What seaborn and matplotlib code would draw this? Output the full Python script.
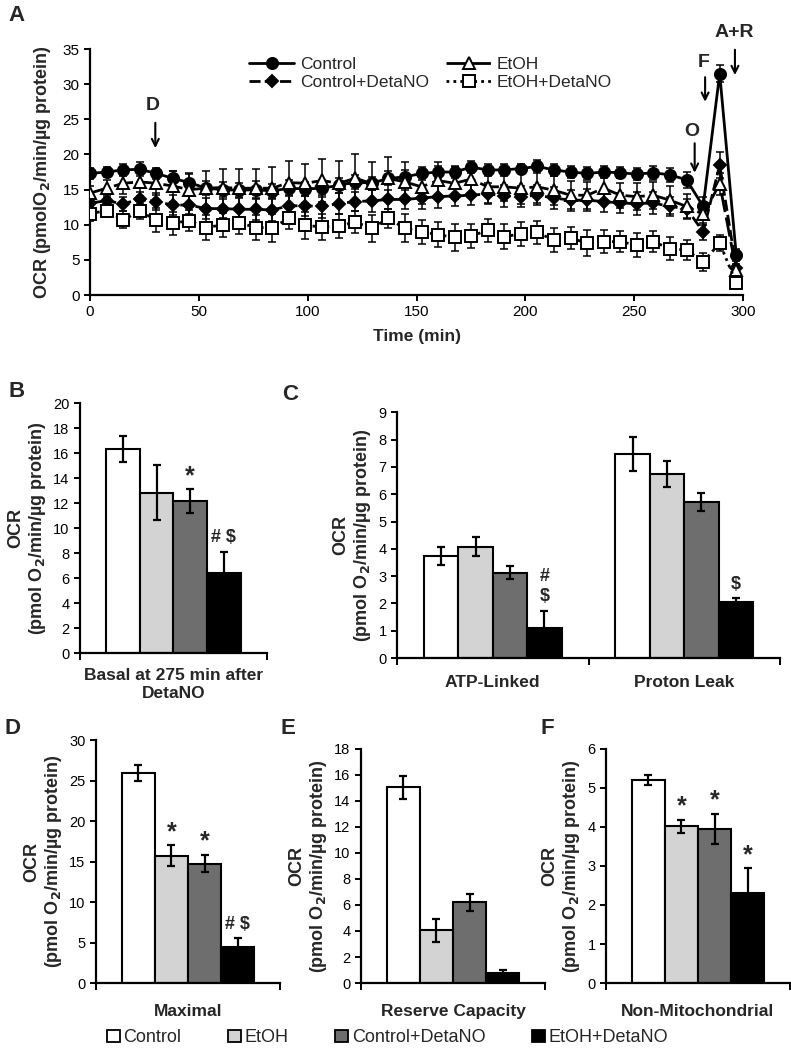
import numpy as np
import pandas as pd
import matplotlib
matplotlib.use('Agg')
import matplotlib.pyplot as plt
from matplotlib.patches import Patch
import seaborn as sns

# ---- panel A: OCR time course ----
times = [0, 7.6, 15.2, 22.8, 30.5, 38.1, 45.7, 53.3, 60.9, 68.5,
         76.1, 83.7, 91.4, 99.0, 106.6, 114.2, 121.8, 129.4, 137.0, 144.6,
         152.3, 159.9, 167.5, 175.1, 182.7, 190.3, 197.9, 205.5, 213.2, 220.8,
         228.4, 236.0, 243.6, 251.2, 258.8, 266.4, 274.1, 281.7, 289.3, 296.9]

control = [17.3, 17.5, 17.8, 17.9, 17.3, 16.6, 16.0, 15.2, 15.0, 14.9,
           15.0, 14.8, 15.2, 15.1, 15.2, 15.6, 16.1, 15.9, 16.6, 16.8,
           17.3, 17.5, 17.5, 18.2, 17.8, 17.8, 18.0, 18.3, 17.8, 17.5,
           17.3, 17.5, 17.4, 17.2, 17.4, 17.1, 16.4, 12.6, 31.5, 5.7]
etoh = [14.5, 15.2, 15.9, 16.1, 15.9, 15.5, 15.0, 15.2, 15.3, 15.2,
        15.2, 15.2, 16.0, 15.9, 16.3, 15.9, 16.6, 15.9, 16.6, 16.1,
        15.4, 16.3, 15.9, 16.5, 15.4, 15.4, 15.2, 15.4, 14.9, 14.2,
        14.2, 15.2, 14.2, 14.0, 14.2, 13.5, 12.6, 11.5, 15.8, 3.6]
control_deta = [13.1, 13.4, 13.0, 13.6, 13.3, 12.8, 12.8, 12.3, 12.3, 12.2,
                12.2, 12.1, 12.7, 12.7, 12.6, 13.0, 13.3, 13.4, 13.6, 13.6,
                13.8, 14.0, 14.1, 14.2, 14.4, 14.1, 14.0, 14.2, 13.8, 13.5,
                13.5, 13.3, 13.1, 13.0, 13.1, 12.6, 12.3, 9.0, 18.5, 3.8]
etoh_deta = [11.6, 12.0, 10.7, 11.9, 10.7, 10.2, 10.6, 9.6, 10.0, 10.3,
             9.6, 9.6, 10.9, 9.9, 9.7, 9.8, 10.4, 9.5, 10.9, 9.5,
             9.0, 8.6, 8.2, 8.4, 9.2, 8.3, 8.7, 8.9, 7.8, 8.1,
             7.4, 7.6, 7.6, 7.1, 7.6, 6.6, 6.4, 4.7, 7.4, 1.7]

control_err = [0.8, 0.7, 0.8, 1.0, 0.8, 1.1, 1.2, 1.0, 1.1, 1.0,
               1.2, 1.0, 1.1, 1.0, 1.2, 1.1, 1.0, 0.9, 1.0, 1.0,
               0.9, 0.8, 0.9, 0.8, 0.8, 0.8, 0.7, 0.9, 0.8, 0.8,
               0.9, 0.9, 0.8, 0.9, 1.0, 1.0, 1.1, 1.3, 1.2, 0.9]
etoh_err = [1.0, 1.2, 1.5, 2.0, 1.7, 2.2, 2.3, 2.5, 2.6, 2.8,
            2.8, 3.0, 3.0, 2.8, 3.0, 3.2, 3.4, 3.0, 3.0, 2.8,
            2.5, 2.6, 2.3, 2.2, 2.3, 2.0, 2.2, 2.3, 2.1, 2.0,
            1.9, 2.0, 1.8, 1.9, 1.9, 2.0, 1.8, 1.5, 1.6, 0.6]
control_deta_err = [0.8, 0.9, 1.0, 1.1, 1.2, 1.4, 1.3, 1.5, 1.4, 1.6,
                    1.5, 1.6, 1.5, 1.4, 1.6, 1.5, 1.4, 1.6, 1.4, 1.3,
                    1.5, 1.6, 1.5, 1.4, 1.5, 1.6, 1.5, 1.4, 1.6, 1.5,
                    1.6, 1.5, 1.4, 1.6, 1.5, 1.4, 1.3, 1.2, 1.8, 0.6]
etoh_deta_err = [1.0, 0.8, 1.2, 1.1, 1.7, 1.6, 1.5, 1.8, 1.7, 1.6,
                 1.8, 2.0, 1.5, 1.9, 1.8, 1.7, 1.6, 1.9, 1.4, 2.0,
                 1.7, 1.8, 1.9, 1.7, 1.6, 1.8, 1.7, 1.6, 1.7, 1.6,
                 1.8, 1.6, 1.5, 1.7, 1.5, 1.6, 1.4, 1.3, 1.2, 0.5]

# ---- panels B-F: bar summaries ----
groups = ['Control', 'EtOH', 'Control+DetaNO', 'EtOH+DetaNO']
bar_colors = ['white', '#d3d3d3', '#6e6e6e', 'black']

basal_cats = ['Basal at 275 min after\nDetaNO']
basal_vals = [[16.35], [12.85], [12.15], [6.45]]
basal_errs = [[1.05], [2.2], [0.95], [1.65]]
basal_marks = [[''], [''], ['*'], ['# $']]

atp_cats = ['ATP-Linked', 'Proton Leak']
atp_vals = [[3.73, 7.47], [4.08, 6.75], [3.13, 5.72], [1.1, 2.07]]
atp_errs = [[0.33, 0.62], [0.36, 0.48], [0.25, 0.32], [0.64, 0.12]]
atp_marks = [['', ''], ['', ''], ['', ''], ['#\n$', '$']]

max_cats = ['Maximal']
max_vals = [[25.9], [15.7], [14.75], [4.45]]
max_errs = [[1.0], [1.3], [1.1], [1.1]]
max_marks = [[''], ['*'], ['*'], ['# $']]

reserve_cats = ['Reserve Capacity']
reserve_vals = [[15.05], [4.05], [6.2], [0.75]]
reserve_errs = [[0.9], [0.9], [0.65], [0.27]]
reserve_marks = [[''], [''], [''], ['']]

nonmito_cats = ['Non-Mitochondrial']
nonmito_vals = [[5.2], [4.02], [3.95], [2.3]]
nonmito_errs = [[0.12], [0.17], [0.38], [0.64]]
nonmito_marks = [[''], ['*'], ['*'], ['*']]

sns.set_style('ticks')
plt.rcParams['font.family'] = ['Liberation Sans', 'DejaVu Sans']
plt.rcParams['axes.linewidth'] = 1.6
plt.rcParams['xtick.major.width'] = 1.4
plt.rcParams['ytick.major.width'] = 1.4
plt.rcParams['mathtext.default'] = 'regular'

fig = plt.figure(figsize=(7.91, 10.5), dpi=100)


def style_axes(ax, size=10.5):
    sns.despine(ax=ax)
    ax.tick_params(axis='both', direction='out', length=4, labelsize=size, colors='black')
    for s in ['left', 'bottom']:
        ax.spines[s].set_color('black')


# ---------- A ----------
axA = fig.add_axes([0.1138, 0.719, 0.8255, 0.2343])
series = [
    ('Control', control, control_err, 'o', 'black', '-', 8.0),
    ('Control+DetaNO', control_deta, control_deta_err, 'D', 'black', (0, (4, 1.5)), 6.5),
    ('EtOH', etoh, etoh_err, '^', 'white', (0, (7, 2)), 8.5),
    ('EtOH+DetaNO', etoh_deta, etoh_deta_err, 's', 'white', (0, (1, 1.5)), 8.5),
]
for name, vals, errs, mk, face, ls, ms in series:
    axA.errorbar(times, vals, yerr=errs, fmt='none', ecolor='black',
                 elinewidth=1.1, capsize=3, capthick=1.1, zorder=2)
    sns.lineplot(x=times, y=vals, ax=axA, color='black', linestyle=ls, lw=2.0,
                 marker=mk, markersize=ms, markerfacecolor=face,
                 markeredgecolor='black', markeredgewidth=1.4, label=name, zorder=3)

axA.set_xlim(0, 300)
axA.set_ylim(0, 35)
axA.set_xticks(range(0, 301, 50))
axA.set_yticks(range(0, 36, 5))
style_axes(axA, 11)
axA.set_xlabel('Time (min)', fontsize=12.5, fontweight='bold', labelpad=7)
axA.set_ylabel(r'OCR (pmolO$_\mathbf{2}$/min/µg protein)', fontsize=13,
               fontweight='bold', labelpad=7)
axA.legend(ncol=2, frameon=False, loc='upper left', bbox_to_anchor=(0.22, 1.03),
           fontsize=12.5, handlelength=2.6, handletextpad=0.3, columnspacing=1.0,
           labelspacing=0.15)

injections = [('D', 29, 26.9, 30, 24.5, 20.9),
              ('O', 276.6, 23.2, 277.8, 21.6, 17.4),
              ('F', 282, 33.1, 282.6, 31.0, 27.5),
              ('A+R', 296, 37.4, 296.3, 34.9, 31.3)]
for lab, tx, ty, axx, y0, y1 in injections:
    axA.text(tx, ty, lab, ha='center', va='center', fontsize=14,
             fontweight='bold', clip_on=False)
    axA.annotate('', xy=(axx, y1), xytext=(axx, y0), annotation_clip=False,
                 arrowprops=dict(arrowstyle='->,head_length=0.5,head_width=0.25',
                                 color='black', lw=1.5, shrinkA=0, shrinkB=0))


# ---------- bar panels ----------
def bar_panel(rect, cats, vals, errs, marks, ymax, ystep, pad):
    ax = fig.add_axes(rect)
    rows = []
    for g, gv in zip(groups, vals):
        for c, v in zip(cats, gv):
            rows.append({'category': c, 'group': g, 'value': v})
    df = pd.DataFrame(rows)
    sns.barplot(data=df, x='category', y='value', hue='group', hue_order=groups,
                order=cats, palette=bar_colors, edgecolor='black', linewidth=1.5,
                width=0.72, errorbar=None, legend=False, ax=ax)
    for cont, gerr, gmark in zip(ax.containers, errs, marks):
        for bar, e, m in zip(cont, gerr, gmark):
            xc = bar.get_x() + bar.get_width() / 2
            h = bar.get_height()
            ax.errorbar(xc, h, yerr=e, fmt='none', ecolor='black', elinewidth=1.6,
                        capsize=3, capthick=1.6, zorder=5)
            if m == '*':
                ax.annotate(m, (xc, h + e), xytext=(0, 1), textcoords='offset points',
                            ha='center', va='bottom', fontsize=18, fontweight='bold')
            elif m:
                ax.annotate(m, (xc, h + e), xytext=(0, 4), textcoords='offset points',
                            ha='center', va='bottom', fontsize=13, fontweight='bold',
                            linespacing=1.2)
    n = len(cats)
    ax.set_xlim(-0.5, n - 0.5)
    ax.set_ylim(0, ymax)
    ax.set_yticks(np.arange(0, ymax + 0.01, ystep))
    style_axes(ax)
    ax.set_xticks(np.arange(-0.5, n, 1.0))
    ax.set_xticklabels([''] * (n + 1))
    ax.set_xticks(range(n), minor=True)
    ax.set_xticklabels(cats, minor=True, fontsize=12.5, fontweight='bold')
    ax.tick_params(axis='x', which='major', length=5)
    ax.tick_params(axis='x', which='minor', length=0, pad=pad)
    ax.set_xlabel('')
    ax.set_ylabel('OCR\n' + r'(pmol O$_\mathbf{2}$/min/µg protein)', fontsize=13,
                  fontweight='bold', linespacing=1.15, labelpad=4)
    return ax


axB = bar_panel([0.101, 0.378, 0.2365, 0.238], basal_cats, basal_vals, basal_errs,
                basal_marks, 20, 2, 11)
axC = bar_panel([0.502, 0.3733, 0.484, 0.234], atp_cats, atp_vals, atp_errs,
                atp_marks, 9, 1, 12)
axD = bar_panel([0.1214, 0.0638, 0.2326, 0.2314], max_cats, max_vals, max_errs,
                max_marks, 30, 5, 15)
axE = bar_panel([0.4564, 0.0638, 0.2326, 0.2229], reserve_cats, reserve_vals,
                reserve_errs, reserve_marks, 18, 2, 15)
axF = bar_panel([0.7661, 0.0638, 0.2326, 0.2229], nonmito_cats, nonmito_vals,
                nonmito_errs, nonmito_marks, 6, 1, 15)

# panel letters
for lab, x, y in [('A', 8, 5), ('B', 8, 381), ('C', 282, 384),
                  ('D', 4, 718), ('E', 280, 718), ('F', 540, 718)]:
    fig.text(x / 791, 1 - y / 1050, lab, fontsize=16, fontweight='bold',
             ha='left', va='top')

handles = [Patch(facecolor=c, edgecolor='black', linewidth=1.3) for c in bar_colors]
fig.legend(handles, groups, ncol=4, loc='lower center', bbox_to_anchor=(0.49, -0.012),
           frameon=False, fontsize=13, handlelength=0.7, handleheight=0.7,
           handletextpad=0.2, columnspacing=2.6)

fig.savefig('out.png', dpi=100)
